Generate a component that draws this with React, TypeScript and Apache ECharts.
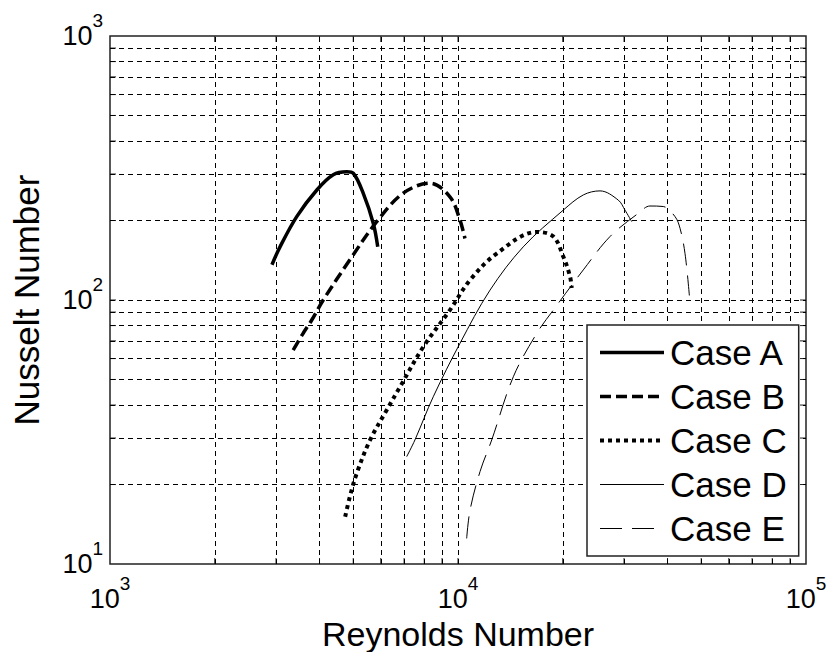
import React, { useEffect, useRef } from "react";
import * as echarts from "echarts";

// Reynolds number (x) and Nusselt number (y) for each case
const caseA_Re = [2920, 3080, 3440, 3930, 4380, 4790, 5000, 5340, 5710, 5880];
const caseA_Nu = [136, 159, 207, 261, 298, 306, 302, 254, 195, 159];

const caseB_Re = [3360, 3590, 3800, 4100, 4890, 5840, 6960, 8310, 9480, 10130, 10470];
const caseB_Nu = [64.6, 74.8, 84, 100, 142, 198, 254, 277, 246, 201, 171];

const caseC_Re = [4740, 4890, 5120, 5590, 6240, 6810, 7950, 9480, 10830, 12920, 16840, 18790, 20070, 20980, 21220];
const caseC_Nu = [15.1, 18.0, 22.1, 29.5, 38.3, 46.8, 66.5, 91.6, 119, 150, 181, 174, 146, 123, 111];

const caseD_Re = [7120, 7520, 8490, 10130, 12360, 15400, 20070, 22910, 25590, 28880, 30190, 31570];
const caseD_Nu = [25.5, 29.5, 43.0, 68.5, 109, 159, 219, 250, 259, 239, 219, 198];

const caseE_Re = [10590, 10830, 11570, 12500, 14420, 16840, 18790, 22910, 27350, 32970, 35620, 38890, 42030, 43450, 44910, 46220];
const caseE_Nu = [12.5, 16.0, 22.4, 29.5, 51.2, 74.8, 91.6, 130, 174, 213, 227, 226, 207, 187, 150, 104];

const caseNames = ["Case A", "Case B", "Case C", "Case D", "Case E"];

// Axis ranges and grid/tick positions
const reMin = 1000;
const reMax = 100000;
const nuMin = 10;
const nuMax = 1000;
const reGrid = [2000, 3000, 4000, 5000, 6000, 7000, 8000, 9000, 10000, 20000, 30000, 40000, 50000, 60000, 70000, 80000, 90000];
const nuGrid = [20, 30, 40, 50, 60, 70, 80, 90, 100, 200, 300, 400, 500, 600, 700, 800, 900];

const FONT = "'Liberation Sans', Arial, sans-serif";
const TICK = 6;

const zip = (xs: number[], ys: number[]) => xs.map((x, i) => [x, ys[i]]);

// "10" with a raised exponent: the tall "b" line box leaves room for the
// top-aligned exponent above the digits
const powLabel = (v: number) => `{b|10}{s|${Math.round(Math.log10(v))}}`;
const powRich = {
  b: { fontSize: 27, lineHeight: 38, fontFamily: FONT, color: "#000", verticalAlign: "bottom" },
  s: { fontSize: 19, lineHeight: 18, fontFamily: FONT, color: "#000", verticalAlign: "top" },
};

// line width / dash for each case
const caseStyles: { width: number; type: any }[] = [
  { width: 3.5, type: "solid" },
  { width: 3.5, type: [11, 5] },
  { width: 4, type: [4, 4] },
  { width: 1, type: "solid" },
  { width: 1, type: [22, 10] },
];

export default function App() {
  const ref = useRef<HTMLDivElement>(null);

  useEffect(() => {
    if (!ref.current) return;
    const chart = echarts.init(ref.current, undefined, { renderer: "svg" });

    const caseData = [
      zip(caseA_Re, caseA_Nu),
      zip(caseB_Re, caseB_Nu),
      zip(caseC_Re, caseC_Nu),
      zip(caseD_Re, caseD_Nu),
      zip(caseE_Re, caseE_Nu),
    ];

    const lineSeries = caseNames.map((name, i) => ({
      name,
      type: "line",
      data: caseData[i],
      symbol: "none",
      showSymbol: false,
      smooth: 0.35,
      lineStyle: { color: "#000", width: caseStyles[i].width, type: caseStyles[i].type, cap: "butt" },
      itemStyle: { color: "#000" },
      emphasis: { disabled: true },
      z: 4,
    }));

    chart.setOption({
      animation: false,
      backgroundColor: "#fff",
      grid: {
        left: 110,
        top: 36,
        width: 696,
        height: 528,
        containLabel: false,
        outerBoundsMode: "none",
        show: true,
        borderColor: "#222",
        borderWidth: 1.5,
        backgroundColor: "transparent",
      },
      xAxis: {
        type: "log",
        logBase: 10,
        min: reMin,
        max: reMax,
        name: "Reynolds Number",
        nameLocation: "middle",
        nameGap: 53,
        nameMoveOverlap: false,
        nameTextStyle: { fontSize: 34, fontFamily: FONT, color: "#000" },
        axisLine: { show: false },
        axisTick: { show: false },
        splitLine: { show: false },
        axisLabel: { margin: 10, formatter: powLabel, rich: powRich },
      },
      yAxis: {
        type: "log",
        logBase: 10,
        min: nuMin,
        max: nuMax,
        name: "Nusselt Number",
        nameLocation: "middle",
        nameGap: 66,
        nameMoveOverlap: false,
        nameTextStyle: { fontSize: 35, fontFamily: FONT, color: "#000" },
        axisLine: { show: false },
        axisTick: { show: false },
        splitLine: { show: false },
        axisLabel: { margin: 7, padding: [0, 0, 12, 0], formatter: powLabel, rich: powRich },
      },
      legend: {
        data: caseNames.map((name, i) => ({
          name,
          lineStyle: { width: caseStyles[i].width, type: caseStyles[i].type, color: "#000" },
        })),
        orient: "vertical",
        left: 587,
        top: 325,
        padding: [10, 12, 10, 11],
        itemWidth: 64,
        itemHeight: 14,
        itemGap: 9,
        backgroundColor: "#fff",
        borderColor: "#222",
        borderWidth: 1.5,
        selectedMode: false,
        itemStyle: { color: "rgba(0,0,0,0)", borderWidth: 0, opacity: 0 },
        textStyle: { fontSize: 35, lineHeight: 35, fontFamily: FONT, color: "#000", padding: [0, 0, 0, 1] },
        z: 10,
      },
      series: [
        {
          name: "grid",
          type: "line",
          data: [[reMin, nuMin]],
          symbol: "none",
          showSymbol: false,
          silent: true,
          lineStyle: { width: 0 },
          markLine: {
            silent: true,
            symbol: ["none", "none"],
            label: { show: false },
            emphasis: { disabled: true },
            lineStyle: { color: "#000", width: 1, type: [5, 4] },
            data: [
              ...reGrid.map((v) => ({ xAxis: v })),
              ...nuGrid.map((v) => ({ yAxis: v })),
            ],
          },
          z: 1,
        },
        {
          name: "xticks",
          type: "custom",
          silent: true,
          clip: false,
          data: reGrid.map((v) => [v, nuMin]),
          renderItem: (_p: any, api: any) => {
            const b = api.coord([api.value(0), nuMin]);
            const t = api.coord([api.value(0), nuMax]);
            return {
              type: "group",
              children: [
                { type: "line", shape: { x1: b[0], y1: b[1], x2: b[0], y2: b[1] - TICK }, style: { stroke: "#222", lineWidth: 1 } },
                { type: "line", shape: { x1: t[0], y1: t[1], x2: t[0], y2: t[1] + TICK }, style: { stroke: "#222", lineWidth: 1 } },
              ],
            };
          },
          z: 3,
        },
        {
          name: "yticks",
          type: "custom",
          silent: true,
          clip: false,
          data: nuGrid.map((v) => [reMin, v]),
          renderItem: (_p: any, api: any) => {
            const l = api.coord([reMin, api.value(1)]);
            const r = api.coord([reMax, api.value(1)]);
            return {
              type: "group",
              children: [
                { type: "line", shape: { x1: l[0], y1: l[1], x2: l[0] + TICK, y2: l[1] }, style: { stroke: "#222", lineWidth: 1 } },
                { type: "line", shape: { x1: r[0], y1: r[1], x2: r[0] - TICK, y2: r[1] }, style: { stroke: "#222", lineWidth: 1 } },
              ],
            };
          },
          z: 3,
        },
        ...lineSeries,
      ],
    });

    return () => chart.dispose();
  }, []);

  return (
    <div
      ref={ref}
      style={{ position: "absolute", left: 0, top: 0, width: 831, height: 652, background: "#fff" }}
    />
  );
}
